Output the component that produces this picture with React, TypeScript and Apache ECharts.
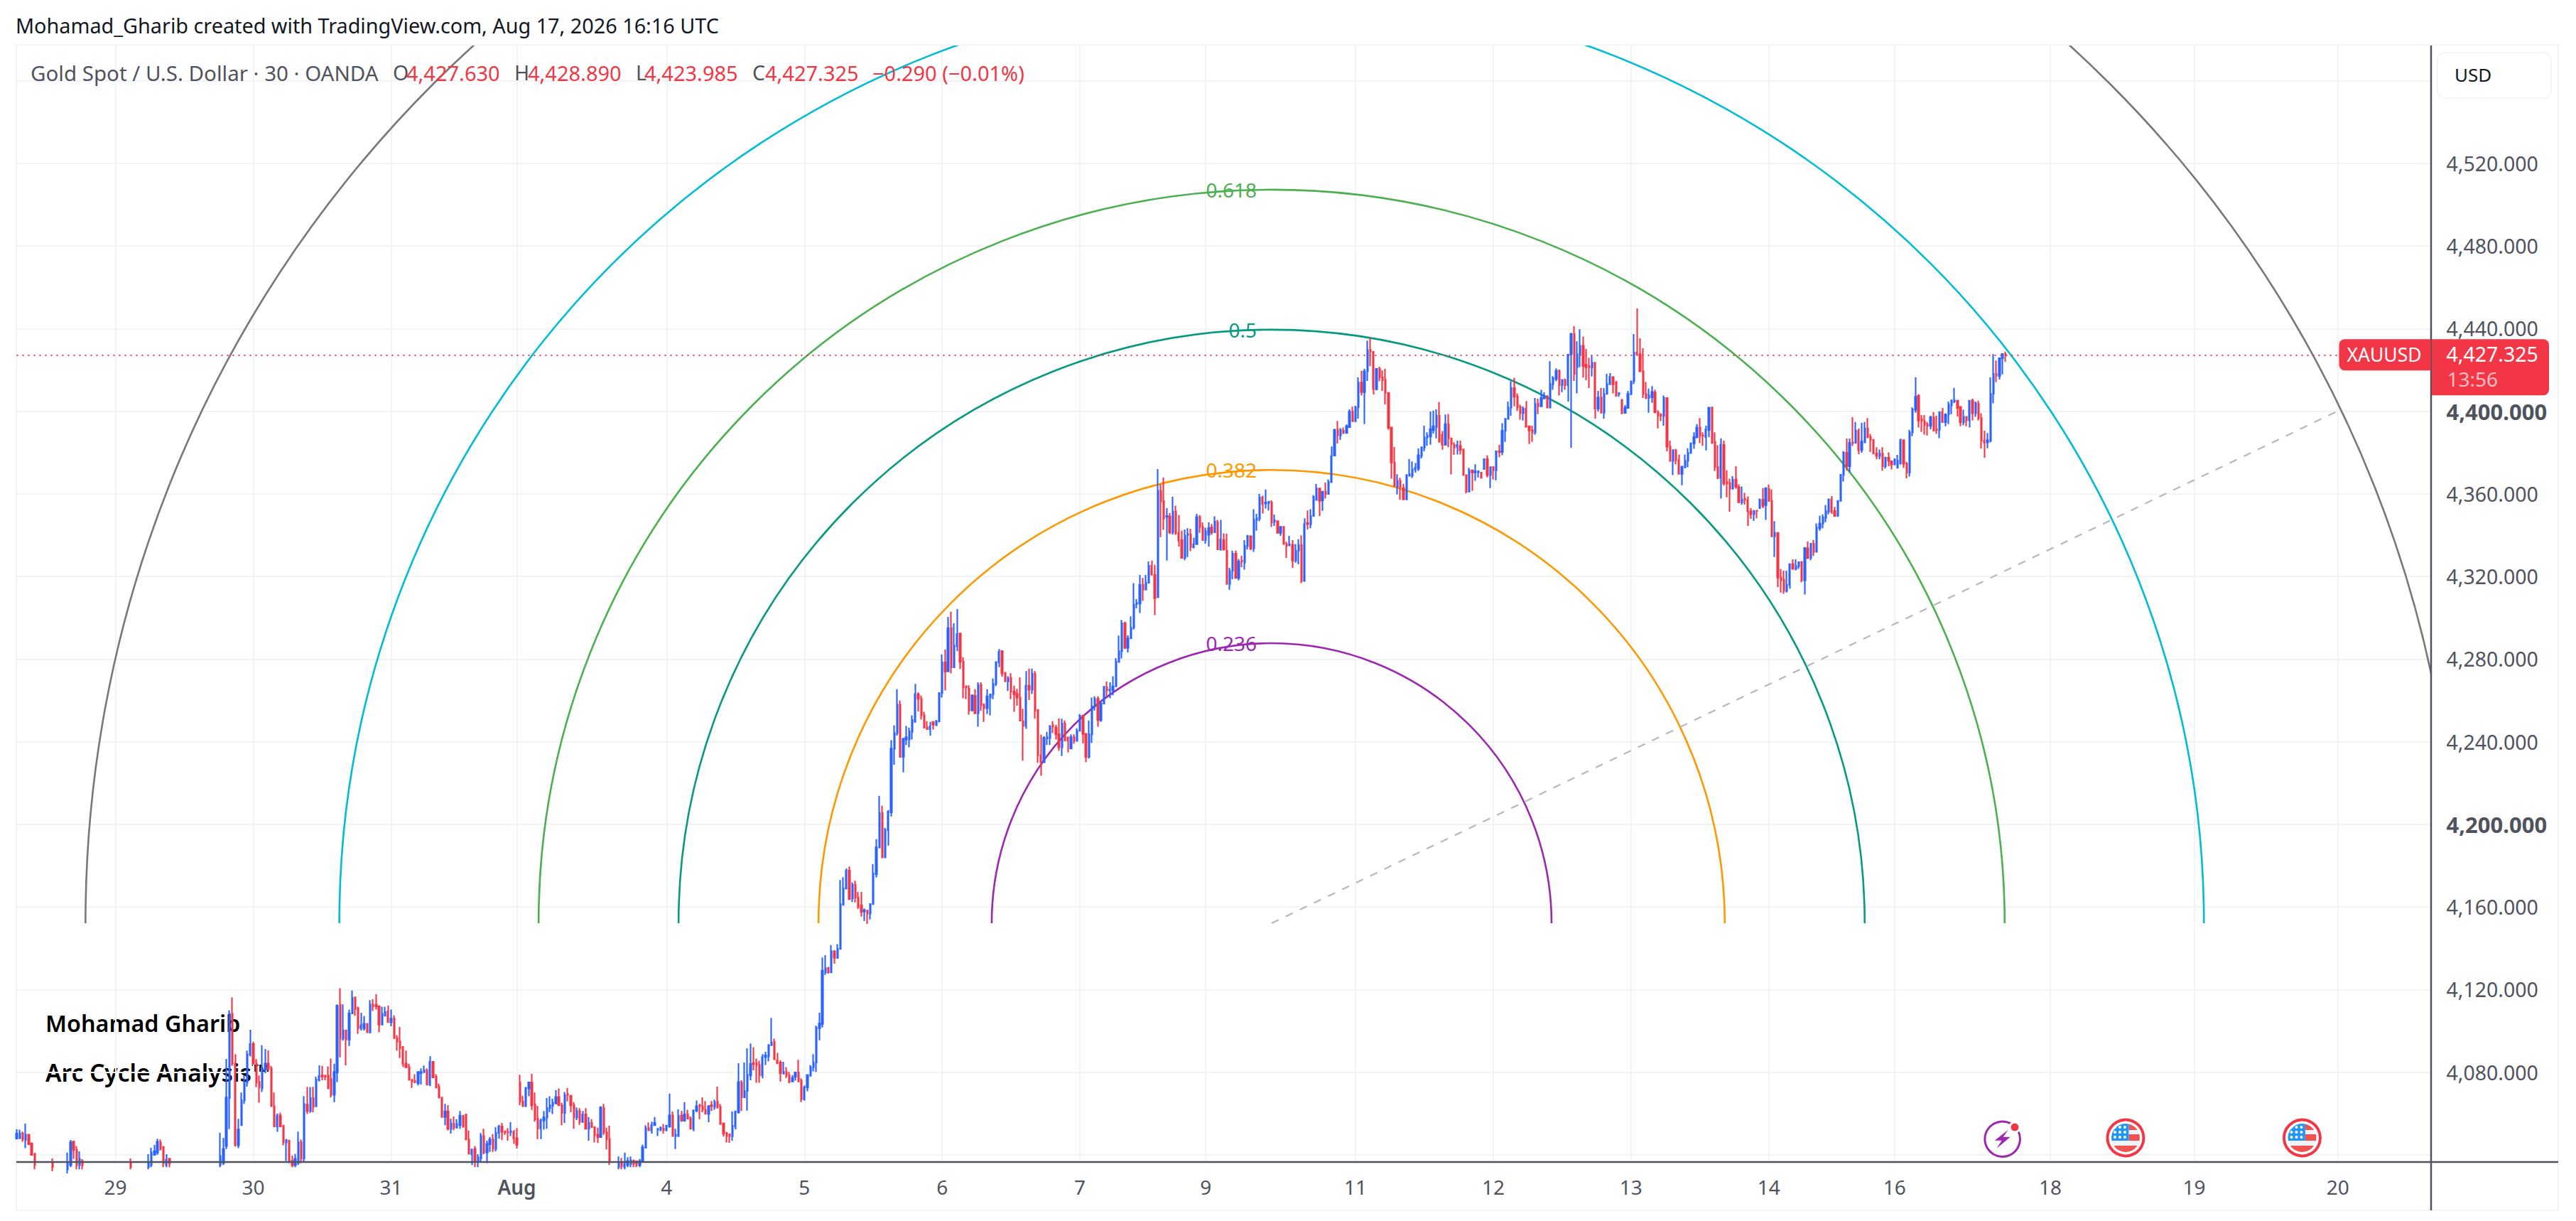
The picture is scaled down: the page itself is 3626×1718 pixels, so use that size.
import React, { useEffect, useRef } from "react";
import * as echarts from "echarts";

type Bar = number[]; // open, close, low, high

// 30-minute candles, one list per date label interval
const barsJul28: Bar[] = [
  [4048,4050.3,4047.4,4052.4],[4048,4050.3,4047.6,4052.2],[4050.3,4047.4,4046.3,4051.2],[4047.2,4049.7,4043.2,4055.1],[4049.7,4045.1,4045.1,4050],
  [4045.5,4040,4039.6,4046],[4040.5,4035,4033,4040.5],[4035,4033,4031,4035.5],[4033,4031,4029,4034],[4031,4032,4028,4034],
  [4032,4030,4029,4033],[4030,4033,4029,4034],[4036,4034,4032,4038.2],[4034,4032,4031,4035],[4032,4030,4029,4033],
  [4030,4032,4029,4033],[4032,4033,4030,4034],[4033,4036,4031,4041.1],[4035,4046,4034,4047.2],[4046.3,4042.3,4038,4046.8],
  [4042.3,4035,4033,4044.2],[4035,4038,4033,4041.7],[4037,4035,4033,4037.9],[4035,4033,4032,4035.5],[4033,4031,4030,4034],
  [4031,4032,4029,4033],[4032,4030,4028,4033],[4030,4028,4027,4031],[4028,4030,4026,4031],[4030,4031,4028,4032],
  [4031,4029,4028,4032],[4029,4031,4027,4032],[4031,4032,4029,4033],
];
const barsJul29: Bar[] = [
  [4032,4030,4029,4033],[4030,4033,4029,4034],[4033,4034,4031,4035],[4034,4032,4031,4035],[4032,4033,4030,4034],
  [4036,4034,4033,4038.2],[4034,4032,4031,4035],[4032,4033,4030,4034],[4033,4031,4030,4034],[4031,4033,4030,4034],
  [4033,4035,4032,4035.5],[4034,4036,4033,4040.3],[4035,4041.1,4034,4043.4],[4040,4041.7,4040,4044.8],[4041.1,4046.3,4040,4047.8],
  [4046,4043,4042,4047.4],[4043.8,4036,4034,4044.2],[4035,4037.7,4034,4040.3],[4038,4036,4034,4038.5],[4036,4034,4033,4036.2],
  [4034,4032,4031,4035],[4032,4030,4029,4033],[4030,4028,4027,4031],[4028,4030,4026,4031],[4030,4028,4027,4031],
  [4028,4026,4025,4029],[4026,4029,4025,4030],[4029,4031,4028,4032],[4031,4029,4028,4032],[4029,4031,4028,4032],
  [4031,4033,4030,4034],[4033,4031,4030,4034],[4031,4033,4030,4034],[4033,4034,4032,4035],[4033,4035,4032,4036],
  [4035,4039.2,4034,4050.6],[4036,4042.8,4035,4048.2],[4044.2,4067.7,4042.8,4086.4],[4067.5,4108.2,4052.4,4110],[4108.2,4084.1,4083,4116.2],
  [4084.1,4044.6,4044,4088.7],[4044.6,4052.2,4043.2,4057.4],[4054.3,4066.3,4054.1,4070.1],[4066.3,4075,4064.6,4078.4],[4075,4088.5,4073,4090.4],
  [4088.5,4093.6,4087.6,4100.5],
];
const barsJul30: Bar[] = [
  [4093.6,4084.1,4084.1,4094.7],[4084.1,4075,4072.7,4086.4],[4075.3,4072.7,4065.2,4078.4],[4072.1,4081.3,4070.4,4093],[4081.3,4084.1,4079.5,4091.2],
  [4084.1,4081.8,4080.7,4090.5],[4081.8,4063.5,4063.5,4083],[4063.5,4053.7,4053.7,4070.1],[4053.7,4058.9,4051.1,4060],[4058.9,4053.7,4053.7,4060.3],
  [4054.1,4046,4044.6,4054.1],[4046,4047.2,4037,4047.4],[4046.9,4036.5,4036,4047.2],[4037,4035,4034,4039.6],[4035,4038,4034,4040.5],
  [4036,4046,4035,4051.2],[4046,4038.2,4036,4047.4],[4038.2,4064.6,4036.6,4068.4],[4064.3,4061.2,4059.7,4072.9],[4061.2,4067.5,4060.3,4072.7],
  [4067.5,4063.3,4060.6,4072.9],[4063.5,4076.3,4063.1,4077.8],[4076.3,4078.2,4075.5,4083.3],[4078.4,4077.8,4076.1,4083],[4078.4,4077.8,4076.1,4078.4],
  [4078.4,4072.1,4072.1,4082.8],[4076.7,4069,4067.7,4086.6],[4069,4080.1,4065.5,4084.1],[4079.8,4112.2,4075.2,4112.8],[4112.6,4096.2,4087.2,4120.6],
  [4096.2,4100.2,4095.3,4112.8],[4100.2,4095.8,4083.3,4100.2],[4095.8,4108.4,4092.7,4110.3],[4108.4,4116,4108.2,4119.5],[4116.2,4110.5,4107.3,4116.2],
  [4111,4101.3,4098.5,4111.7],[4101.3,4102.7,4100.2,4108.8],[4101.3,4103.4,4100.2,4107.1],[4103.4,4099.3,4099,4103.6],[4099.3,4112.8,4098.8,4114.9],
  [4112.6,4111.9,4109.6,4115.3],[4112.6,4111.9,4110.3,4117.7],[4111.9,4103,4099.3,4112.2],[4103,4108.2,4102.7,4111.7],[4107.3,4109.1,4107.1,4111.7],
  [4109.4,4104.2,4104.2,4112.2],[4104.2,4105.9,4102.2,4110.3],
];
const barsJul31: Bar[] = [
  [4105.9,4096.5,4096.5,4107.6],[4096.5,4094.8,4090.4,4097.9],[4094.8,4091.6,4086.8,4101.9],[4092.2,4084.1,4082.4,4092.2],[4084.1,4082.4,4082.1,4090.4],
  [4082.4,4076.3,4076.1,4084.1],[4076.3,4075.5,4072.4,4076.3],[4075.7,4075.2,4074.7,4079],[4074.7,4080.1,4073.6,4080.1],[4079.5,4080.1,4074,4081.8],
  [4080,4080.9,4079.8,4083.2],[4080.9,4074,4073.6,4081.8],[4074,4085,4073.2,4087.8],[4085,4077.5,4077.2,4085],[4077.8,4072.6,4072.4,4079],
  [4072.9,4067.7,4067.5,4074.4],[4067.7,4058.3,4058.3,4067.7],[4058.3,4061,4054.3,4064.6],[4061,4052.6,4051.8,4064],[4052.6,4055.2,4050.3,4057.5],
  [4054.9,4053.1,4052,4058.5],[4053.1,4054.9,4053.1,4057.2],[4054.3,4058.9,4052.6,4061.2],[4058.9,4053.7,4053.1,4058.9],[4059.5,4047.4,4047.4,4059.5],
  [4047.4,4040.5,4040.5,4051.7],[4040.3,4042.6,4035,4042.8],[4042.8,4037,4034,4044.2],[4036.5,4038.8,4034,4040.3],[4038.2,4049.1,4036.5,4050.5],
  [4049.1,4041.1,4040.3,4052.6],[4041.1,4045.3,4036,4046.8],[4045.1,4047.4,4041.4,4048.6],[4047.4,4043,4041.4,4050],[4043,4050.6,4041.7,4053.4],
  [4050.6,4053.7,4047.8,4054.5],[4053.7,4051.1,4047.2,4055.4],[4051.4,4050.8,4049.7,4051.4],[4051.1,4050.9,4046.8,4052.9],[4050.9,4051.4,4049.1,4055.8],
  [4050.9,4048,4045.3,4052],[4048,4044.9,4043,4052.9],
];
const barsAug1: Bar[] = [
  [4075,4065.8,4064,4078.7],[4065.8,4063.5,4063.5,4068.6],[4063.5,4072.4,4063.5,4072.6],[4072.1,4075,4068.3,4075.2],[4075,4064,4061.7,4079.2],
  [4064.4,4057.2,4056,4070.1],[4057.5,4052.8,4047.6,4063.7],[4052.8,4056.6,4047.6,4057.5],[4056.6,4058.1,4052.2,4061.2],[4058,4062.6,4052.6,4067.5],
  [4062.6,4064,4060.6,4068.3],[4063.7,4065.2,4059.7,4067.1],[4064.8,4068,4064.6,4071.3],[4068,4064,4063.7,4072.1],[4064,4060.3,4054.3,4065.2],
  [4060.3,4069,4055.4,4070.4],[4069.4,4069,4065.8,4072.3],[4068.6,4064,4060.6,4069],[4064,4058,4052.6,4065.5],[4058,4061.2,4056.8,4062.9],
  [4061.2,4056,4054.5,4062.6],[4056,4059.5,4055.4,4061.2],[4059.5,4052.6,4052.6,4062.6],[4052.6,4055.4,4046.8,4058.3],[4055.4,4053.4,4052.9,4057.2],
  [4053.4,4049.5,4046,4053.7],[4049.7,4048.6,4045.7,4053.2],[4048.6,4062.9,4048.3,4063.5],[4062.6,4050.9,4049.7,4064.6],[4050.9,4047.6,4042.6,4053.2],
  [4047.6,4036.5,4035,4054.1],[4036,4034,4032,4036.2],[4034,4033,4031,4035],[4034,4036,4033,4039.2],[4036.5,4034.5,4033,4038.5],
  [4034,4035.5,4033,4041.1],[4035,4037,4034,4038.8],[4035.5,4037.3,4034,4039.2],[4037.2,4035.5,4034,4037.7],[4036.9,4035,4034,4037.3],
  [4035,4036.9,4034,4038],[4037.1,4043.6,4036.5,4044.9],[4043.4,4052.9,4043.4,4054.3],[4052.9,4051.8,4051.8,4055.7],[4051.8,4054.3,4050.3,4056],
  [4054.3,4055.4,4054.1,4058.3],[4052.2,4052.6,4049.1,4052.6],[4052.2,4053.1,4051.4,4053.7],[4052.6,4052,4050.3,4054.9],[4051.8,4054.1,4051.4,4054.1],
];
const barsAug4: Bar[] = [
  [4053.7,4059.1,4053.1,4069.6],[4059.1,4049.1,4048.9,4060.9],[4049.1,4049.7,4042.8,4052.6],[4049.1,4058.9,4048.6,4062],[4058.9,4056.6,4056,4061.2],
  [4056.6,4059.5,4056,4065.5],[4059.5,4057.5,4057.2,4061.8],[4057.7,4052.6,4052.6,4058.6],[4052.6,4061.5,4051.4,4061.8],[4061.4,4063.5,4060.6,4066.3],
  [4064,4063.5,4057.2,4064.6],[4063.5,4061.8,4060.6,4067.8],[4061.8,4059.8,4059.8,4066],[4059.8,4063.5,4055.8,4064],[4064,4063.5,4061.2,4066],
  [4063.2,4065.5,4061.8,4066.7],[4065.8,4063.2,4062.3,4073],[4063.2,4054.9,4054.5,4064.6],[4055.2,4050.3,4048.8,4055.4],[4050.5,4049.1,4046,4051.1],
  [4049.9,4049.1,4045.8,4050.3],[4049.1,4054,4046.8,4061],[4053.7,4061,4052.3,4061],[4060.6,4075.2,4060,4084.3],[4074.9,4067.8,4061.2,4076.1],
  [4067.8,4070.9,4067.8,4084.7],[4070.9,4078.7,4061.4,4091.6],[4078.4,4083.9,4076.1,4093.9],[4084.3,4083.9,4080.9,4092.1],[4084.3,4083.5,4074.9,4086.6],
  [4083.5,4078.4,4074.9,4085.5],[4078.4,4087.3,4077,4088.7],[4087.3,4088.1,4083.5,4089.9],[4087.6,4093.1,4085.3,4093.5],[4093.1,4094.4,4092.7,4106.3],
  [4094.7,4086.2,4086.2,4096.2],[4085.8,4084.3,4084.3,4089.3],[4084.7,4079.5,4075.5,4085.8],[4079.3,4080.1,4079,4085],[4080.1,4078.4,4077.2,4082.4],
  [4078.4,4075.2,4074.7,4080.1],[4075.5,4077.2,4075.5,4078.6],[4077.8,4079.8,4075.9,4080.1],[4079.8,4075.5,4075.5,4086],[4075.9,4066.9,4065.5,4077],
  [4066.9,4072.6,4066.3,4073.6],
];
const barsAug5: Bar[] = [
  [4072.6,4078.6,4070.7,4078.6],[4078.4,4082.4,4077.8,4083.5],[4082.4,4084.7,4080.4,4088.7],[4084.7,4101.6,4080.1,4102.5],[4101.3,4103.6,4095.4,4108.8],
  [4103.4,4129.1,4101.6,4135.5],[4128.3,4130.3,4127.1,4136.6],[4130.6,4128.3,4127.7,4130.9],[4128.3,4138.6,4128.3,4141.5],[4138.6,4135.4,4132.5,4138.6],
  [4135.4,4139.7,4134.9,4142],[4139.7,4161.3,4139.4,4173],[4161,4169,4161,4174.4],[4168.8,4177.6,4168.5,4178.6],[4177.6,4163.9,4163.3,4179.6],
  [4164.2,4170.8,4162.4,4171.9],[4170.8,4164.5,4162.2,4172.7],[4164.5,4159.9,4159.1,4167.3],[4160.8,4157.6,4155.3,4167.3],[4157.8,4158.4,4153.2,4159.3],
  [4158.2,4156.8,4151.8,4158.7],[4156.8,4161.4,4153.9,4161.6],[4161.4,4176.2,4161,4180.8],[4175.9,4188.8,4174.2,4192.8],[4188.8,4205.4,4188.6,4213.8],
  [4205.4,4184,4183.7,4209],[4184,4197.2,4184,4198.3],[4197.2,4206.1,4189.7,4206.9],[4205.8,4236.7,4203.8,4240.7],[4236.5,4244.2,4228.9,4247.9],
  [4244.2,4257.9,4243,4265.4],[4257.9,4232.7,4232.4,4259.9],[4232.7,4241.3,4225.2,4241.9],[4241.1,4242.2,4238.4,4247.6],[4241.1,4245,4237.3,4246.8],
  [4244.8,4250.5,4241.1,4252.8],[4249.6,4263.1,4249.3,4268],[4262.9,4260.8,4254.7,4264],[4260.8,4252.8,4250.7,4262.3],[4252.8,4246.8,4246.5,4254.5],
  [4247,4246.1,4245.9,4249.9],[4246.1,4247.3,4243,4249.6],[4249.6,4248.2,4245.9,4249.9],[4248,4249.9,4247.9,4250.5],[4249.9,4263.5,4249.3,4264],
  [4263.5,4278.4,4261.4,4282.3],
];
const barsAug6: Bar[] = [
  [4278.4,4274,4264.8,4284.7],[4274,4295,4274,4300.4],[4295,4276,4273.1,4302.9],[4276,4286.6,4276,4297.3],[4286.3,4292.1,4283.8,4304.2],
  [4292.4,4278.6,4275.2,4292.6],[4278.8,4266.3,4261,4280.9],[4266.9,4266.3,4260.6,4267.1],[4265.7,4255.1,4253.1,4267.3],[4255.1,4262.3,4255.1,4262.9],
  [4262.2,4253.7,4253.4,4265.4],[4253.7,4267.5,4247.3,4268.8],[4267.5,4257.6,4254.9,4268.8],[4257.9,4256.2,4249.6,4258.5],[4256.2,4262,4253.4,4265.4],
  [4261.4,4262.9,4252.8,4263.1],[4262.9,4268,4260.6,4270.6],[4267.9,4278.6,4266.9,4278.9],[4278.4,4283.5,4276.1,4284.9],[4283.8,4273.1,4271.4,4284.3],
  [4273.4,4269.2,4269.2,4273.7],[4269.2,4270.9,4264.6,4271.7],[4270.9,4264.3,4260.6,4273.2],[4264.3,4262.9,4254.5,4267.1],[4263.1,4261.4,4257.4,4265.6],
  [4261.4,4250.2,4249.9,4271.1],[4249.9,4247.6,4230.8,4256],[4247.6,4267.1,4246.2,4274.2],[4267.1,4265.2,4260.2,4275.4],[4265.2,4272.9,4263.1,4275.4],
  [4272.9,4254.9,4251.1,4274.2],[4255.3,4233.5,4229.8,4255.7],[4233.5,4230.1,4223.5,4243.4],[4230.1,4241.8,4229.8,4242.7],[4241.6,4242.2,4238.4,4244.8],
  [4241.9,4247.4,4238.4,4248],[4248,4247.3,4244.2,4249.9],[4246.8,4243.6,4241.1,4248.2],[4243.6,4237.3,4235.6,4251.3],[4237.3,4248.8,4233.1,4251.1],
  [4248.8,4240.7,4240.2,4250.3],[4241.9,4240.7,4234.8,4242.5],[4236.7,4242.2,4236.5,4243.6],[4242.2,4240.4,4239,4243.6],[4240.4,4245.3,4240.2,4246.5],
  [4245.3,4252.6,4245.3,4253.4],
];
const barsAug7: Bar[] = [
  [4252.6,4243.8,4239.2,4253],[4243.8,4232.7,4230.1,4244.2],[4232.7,4243.6,4231.9,4250.3],[4243.6,4257.1,4239.4,4261.4],[4257.1,4260.8,4255.1,4262],
  [4260.8,4250.5,4247.3,4262],[4250.5,4258.5,4249.6,4259.7],[4258.5,4266.6,4258.3,4266.8],[4266.3,4264.8,4262,4269.1],[4264.8,4265.2,4261,4268.8],
  [4264.8,4266.8,4262.5,4271.7],[4266.8,4278.8,4266.6,4280.5],[4278.6,4283.8,4278.6,4291.4],[4283.8,4297.3,4280.3,4299],[4297.3,4285.5,4284.9,4298.1],
  [4285.5,4290,4283.2,4291.6],[4290.1,4295.2,4289.7,4300.7],[4295.2,4306.4,4294.3,4316.8],[4306.7,4307.2,4304.6,4309],[4306.9,4315.9,4302.3,4320.7],
  [4315.9,4313.6,4308.2,4319.3],[4313.6,4317,4313.3,4320.7],[4317,4325.2,4317,4327.3],[4325.2,4320.8,4320.7,4327.7],[4320.8,4309.5,4301.3,4325.6],
  [4309.9,4361.5,4309.9,4372],[4361.5,4356.2,4339.1,4364.6],[4356.6,4348,4342.6,4368],[4348.9,4349.3,4327.7,4353.1],[4349.1,4341.4,4340.5,4350.8],
  [4341.4,4351.4,4340.3,4358.6],[4351.4,4340.9,4340.2,4354.3],[4341.1,4337.4,4334.5,4349.7],[4337.6,4329,4329,4342.2],[4329,4339.7,4327.9,4342.8],
  [4340.2,4340.5,4329.4,4343.4],[4340.3,4334.2,4332.3,4343.1],[4334.2,4335.6,4333.6,4338.8],[4335.6,4348.8,4335.6,4350.3],[4348.8,4344,4341.1,4349.7],
  [4344,4337.6,4337.3,4346.2],[4337.6,4342,4335.9,4343.6],
];
const barsAug9: Bar[] = [
  [4340.2,4343.4,4334.5,4346.2],[4343.7,4341.4,4340.2,4345.4],[4341.4,4346.5,4341.1,4349.1],[4346.3,4333.1,4332.8,4347.4],[4333.1,4337.9,4332.5,4347.4],
  [4337.6,4333.1,4332.5,4340.9],[4332.5,4316.4,4316.4,4340.7],[4316.4,4322.7,4313.6,4324.2],[4322.7,4331,4318.7,4332.5],[4331,4319.3,4318.9,4332.5],
  [4319.3,4327.3,4318.1,4328.5],[4327.7,4327.3,4324.5,4330],[4326.7,4334.8,4323.3,4337.6],[4334.8,4339.7,4333,4339.7],[4339.4,4333.6,4332.8,4339.9],
  [4333.6,4347.6,4331.9,4352.6],[4347.4,4348.2,4342.2,4350.3],[4348,4358.3,4346.8,4360],[4358.3,4355.1,4350.5,4359.1],[4355.4,4355.8,4352.9,4362.1],
  [4355.6,4356.2,4352,4356.6],[4355.8,4346.2,4344,4356.9],[4346.5,4347.2,4344.5,4350],[4346.8,4341.1,4341.1,4347],[4341.1,4344,4339.7,4344.2],
  [4344,4335.7,4335.7,4344.2],[4335.7,4334.8,4329,4336.8],[4335,4335.6,4334.8,4339.7],[4335.3,4327.7,4324.2,4337.6],[4327.7,4332.5,4326.7,4335.7],
  [4332.5,4335.3,4325.9,4338],[4335.3,4317.8,4316.8,4339.9],[4317.8,4345.4,4317.8,4348.2],[4345.9,4345.4,4342.8,4352],[4345.3,4349.3,4343.4,4352.6],
  [4349.3,4358.6,4349.1,4359.4],[4357.1,4362.6,4357.1,4364.8],[4362.6,4356.6,4349.3,4362.9],[4356.9,4361.1,4351.8,4361.4],[4361.1,4360,4357.7,4365.5],
  [4360,4365.7,4360,4366.9],[4365.7,4378.4,4365.4,4382.9],
  [4378.6,4390.9,4378.3,4391.5],[4390.9,4388.3,4384.4,4395.3],[4388.3,4390.9,4386.1,4391.9],[4390.6,4389.5,4389,4392.1],[4389.5,4392.7,4389.5,4393.6],
  [4392.3,4399.8,4392.1,4400.9],[4399.8,4395.2,4395,4402.2],[4395.2,4402,4395.2,4402.6],
];
const barsAug11: Bar[] = [
  [4402,4413.9,4396.4,4416.4],[4413.9,4409.3,4407.6,4419.6],[4409.3,4419.3,4393.8,4420.5],[4419.3,4429.7,4414.7,4434.2],[4429.7,4428.8,4421.9,4435.4],
  [4428.8,4410.7,4408.1,4429.1],[4410.7,4420.5,4410.1,4420.8],[4420.5,4416.4,4414.5,4421.6],[4416.4,4415,4409.9,4419.8],[4415.3,4408.9,4403.3,4420.5],
  [4408.9,4392.1,4391,4409],[4392.1,4375.2,4367.4,4392.3],[4375.2,4364,4363.4,4382.7],[4363.4,4366.3,4359.7,4369.5],[4366.3,4363.4,4357.1,4367.8],
  [4362.8,4357.3,4357.1,4364.9],[4357.3,4369.1,4357.1,4369.5],[4368.8,4369.5,4368.6,4376.8],[4368.8,4371.8,4367.7,4375.7],[4371.8,4372.6,4370.3,4374.9],
  [4372.2,4378.7,4371.1,4382],[4378.3,4382.6,4377.2,4382.6],[4382.3,4387.3,4380.6,4393],[4387.3,4388.1,4383.3,4389.8],[4387.8,4391.3,4383.8,4399.9],
  [4390.9,4392.7,4389.2,4400.3],[4392.4,4397.8,4386.9,4401],[4397.8,4385.2,4384.9,4404.4],[4388.6,4383.7,4381.4,4390.4],[4383.7,4393.8,4383.7,4398.4],
  [4393.8,4386.9,4382.6,4398.7],[4386.9,4384.1,4369.4,4386.9],[4383.7,4382.3,4378.9,4385],[4382.9,4383.7,4379.1,4385.8],[4383.3,4381.2,4379.1,4385.8],
  [4381.5,4369.1,4369.1,4381.8],[4369.1,4361.1,4360.3,4369.1],[4361.1,4371.4,4361.1,4372.6],[4371.4,4370.3,4361.5,4371.8],[4370.5,4370.9,4366.3,4374.3],
  [4370.5,4370.9,4368,4371.4],[4370.3,4367.8,4367.4,4370.6],[4372,4376.8,4372,4377.2],[4376.8,4369.1,4368,4378.6],[4369.1,4372.9,4362.8,4373.2],
  [4372.9,4371.4,4366.9,4373.4],
];
const barsAug12: Bar[] = [
  [4371.4,4380.6,4366.6,4381],[4380.6,4380.3,4377.8,4383.8],[4380.3,4390.6,4378.7,4394.2],[4390.6,4396.3,4385.2,4396.7],[4396.3,4401.8,4396.1,4404.7],
  [4401.8,4411.2,4397.8,4414.5],[4411.2,4407,4402.4,4416.2],[4407.3,4402,4400.1,4408.7],[4402,4399,4395.9,4403.2],[4399,4401.3,4395.5,4402.4],
  [4401.3,4392.4,4392.4,4405],[4392.7,4390.7,4384.1,4393],[4390.9,4389.8,4385.2,4393],[4389.8,4403.6,4388.6,4406.4],[4403.6,4402.4,4398.6,4406.1],
  [4402.4,4406.4,4402.4,4410.4],[4406.2,4407.3,4405.9,4409.3],[4407.3,4401.8,4401.8,4407.8],[4401.8,4413.3,4401.8,4424.2],[4413.1,4416,4410.4,4417],
  [4415.6,4419.6,4414.5,4420.8],[4419.6,4412.7,4407.6,4420.2],[4412.7,4415,4409.3,4415.6],[4415,4412.7,4410.4,4415.9],[4412.7,4427.4,4404.7,4427.6],
  [4427.6,4437.4,4382.3,4438],[4437.4,4418.1,4414.7,4441.2],[4421.3,4427.6,4408.7,4433.9],[4427.3,4431.7,4421.3,4439.7],[4431.7,4421.9,4416.4,4436.2],
  [4422.5,4421.3,4415,4430.2],[4421.9,4421.3,4411.2,4425.9],[4421.3,4423.4,4416.8,4426.7],[4423.4,4401.3,4396.4,4423.9],[4401.3,4406.7,4399.9,4409.9],
  [4406.7,4399.3,4399.3,4411.2],[4399.3,4408.4,4396.4,4411.2],[4408.4,4413.1,4408.1,4418.1],[4413.1,4416.7,4413.1,4418.5],[4416.5,4413.1,4408.7,4417],
  [4414.2,4407.6,4407,4414.5],[4408.4,4408.7,4407,4409.3],[4405.5,4399.2,4398.6,4405.9],[4399.2,4401.8,4399,4403],[4401.6,4408.4,4401.3,4409.9],
  [4408.4,4414.5,4407.8,4414.5],
];
const barsAug13: Bar[] = [
  [4414.5,4428.4,4413.1,4437.4],[4428.4,4427.6,4427.6,4449.8],[4427.6,4419.3,4419.3,4435.3],[4419.4,4408.4,4406.4,4430.5],[4408.4,4406.4,4405.9,4414.2],
  [4406.4,4407.6,4399.3,4411],[4406.8,4409.3,4404.1,4412.2],[4409.1,4399.5,4399.2,4410.4],[4399.5,4397.8,4391.7,4400.5],[4398.4,4397.8,4395.2,4399],
  [4397.8,4406.4,4393,4407.6],[4406.4,4382.9,4380.6,4406.6],[4382.9,4376,4375.7,4385.8],[4376,4381.2,4369.1,4381.2],[4381,4376.4,4374.3,4381.8],
  [4376.4,4369.7,4369.5,4379.1],[4369.7,4373.2,4364.2,4373.4],[4372.9,4376,4372.4,4379.1],[4376,4379.8,4372.9,4382.1],[4379.8,4384.4,4379.5,4384.9],
  [4384.4,4387.5,4381.8,4389.8],[4387.5,4392.1,4386.9,4393.8],[4392.1,4388.1,4384.6,4396.7],[4388.3,4388.1,4383.3,4389.8],[4387.5,4391.2,4381,4393],
  [4390.9,4401.8,4387.5,4401.8],[4401.8,4384.6,4384.4,4402.2],[4385.2,4372.9,4371.1,4389.8],[4372.9,4367.7,4367.2,4383.5],[4367.7,4383.7,4357.7,4386.9],
  [4383.7,4365.1,4364,4385.8],[4365.7,4365.1,4358.3,4371.4],[4365.1,4362.5,4351.4,4367.4],[4362.5,4366.9,4362.5,4368.6],[4366.9,4363.4,4362.5,4373.4],
  [4363.2,4355.9,4355.9,4364.6],[4355.9,4357.3,4354.8,4363.6],[4357.7,4357.1,4354.8,4360.5],[4357.1,4351.6,4344.5,4358.8],[4351.6,4350.2,4347.9,4353.1],
  [4350.2,4351.6,4347,4352.2],[4351.9,4351.6,4348.2,4351.9],[4353.1,4357.1,4353.1,4357.7],[4357.1,4354.2,4353.1,4362.8],[4354.6,4362.8,4347.4,4363.1],
  [4362.3,4356.6,4356.2,4364.4],
];
const barsAug14: Bar[] = [
  [4356.6,4339.4,4339.4,4362.1],[4339.4,4341.1,4329.4,4346.8],[4341.1,4319.5,4314.9,4341.1],[4319.5,4318.2,4312.2,4323.6],[4318.4,4313,4311.6,4322.8],
  [4313,4315.9,4312.2,4322.8],[4315.9,4326,4314.1,4326.2],[4326,4323.7,4323.7,4328.3],[4323.7,4325,4323,4328.3],[4325,4326.9,4323.7,4327.1],
  [4327.1,4318.2,4317.2,4327.1],[4318.2,4333.8,4311.3,4334],[4333.6,4329,4328.5,4336.9],[4329,4335.9,4327.9,4335.9],[4335.9,4331.9,4329.9,4337.7],
  [4331.9,4343.7,4331.9,4345.7],[4343.4,4345.7,4342.2,4349.4],[4345.7,4348.6,4343.4,4350.1],[4348.3,4351.7,4346.3,4354.6],[4351.4,4357.4,4350.1,4357.5],
  [4357.2,4351.4,4350.3,4358.9],[4351.7,4349.4,4348.9,4353.7],[4349.4,4356.6,4348.9,4356.9],[4356.6,4369.2,4356.6,4369.5],[4369.2,4379.9,4366,4380.7],
  [4379.9,4373.4,4371.2,4386.8],[4373.4,4384.7,4370.4,4386.8],[4384.9,4384.7,4383.2,4397.1],[4384.7,4390.7,4384.7,4394.8],[4390.7,4381.2,4379.2,4391.6],
  [4381.2,4385.3,4379.9,4394.4],[4384.9,4391.6,4384.7,4394.8],[4391.6,4387.3,4387.3,4396.7],[4387.6,4386.1,4380.3,4389],[4386.2,4379.5,4379.5,4386.4],
  [4379.5,4378.4,4376.7,4382.6],[4378.4,4379.5,4376.7,4381.5],[4379.5,4373.4,4371.2,4382.6],[4373.4,4377.6,4372.3,4377.8],[4377.5,4376.1,4373.4,4380.1],
  [4375.8,4374.3,4371.8,4376.1],[4374.3,4376.6,4373.8,4377.2],
];
const barsAug16: Bar[] = [
  [4372.6,4376.1,4372.4,4378.9],[4374.6,4386,4374.3,4386.7],[4386,4374.6,4372.6,4386.4],[4374.7,4370.3,4367.5,4375.5],[4370.3,4389.8,4368.4,4391],
  [4389.8,4400.9,4387.9,4401.9],[4400.7,4407,4399.3,4416.4],[4407.4,4395.5,4392.1,4408.2],[4396.1,4395.3,4390,4398.2],[4395.3,4393.3,4388.7,4398.2],
  [4393.6,4392.9,4388.3,4394.8],[4392.9,4397,4391.3,4397.8],[4397,4390.6,4390.4,4399.6],[4391.3,4390.9,4389,4397.8],[4391,4399.6,4387,4399.6],
  [4399.6,4394.7,4394.4,4401.6],[4394.7,4398.4,4392.7,4399],[4398.4,4403.2,4393.8,4404.7],[4402.8,4405.3,4398.6,4405.5],[4404.7,4405.3,4403.9,4411.3],
  [4405.1,4401.6,4397.5,4405.1],[4402.1,4394.7,4392.7,4402.4],[4394.7,4397.3,4393.3,4400.7],[4397.3,4395.6,4392.7,4397.5],[4395.6,4405.1,4392.1,4405.5],
  [4405.1,4399,4395.6,4406.1],[4399,4403.9,4397.3,4404.7],[4403.6,4396.7,4395.6,4405.1],[4396.7,4385.8,4382,4399],[4385.8,4384.9,4377.5,4390.6],
  [4384.9,4386,4382.1,4389.5],[4385.8,4408.5,4384.9,4416.4],[4408.5,4418.1,4403.8,4427.7],[4418.1,4417.3,4414.1,4424.6],[4417.1,4425.7,4415.4,4425.9],
  [4425.7,4427.7,4417.9,4427.7],[4427.63,4427.325,4423.985,4428.89],
];

// Date axis: bar positions of the labelled dates
const tickBars = [33, 79, 125, 167, 217, 263, 309, 355, 397, 447, 493, 539, 585, 627, 679, 727, 775];
const tickDates = ["29", "30", "31", "Aug", "4", "5", "6", "7", "9", "11", "12", "13", "14", "16", "18", "19", "20"];
const barSlots = 807;

// Price axis
const gridPrices = [4040, 4080, 4120, 4160, 4200, 4240, 4280, 4320, 4360, 4400, 4440, 4480, 4520, 4560];
const labelPrices = [4080, 4120, 4160, 4200, 4240, 4280, 4320, 4360, 4400, 4440, 4480, 4520];
const strongPrices = [4200, 4400];
const priceMin = 4036.5;
const priceMax = 4577.1;

// Fib arcs: centre anchor, rim anchor, levels
const arcCentreBar = 419;
const arcCentrePrice = 4152.1;
const arcRimBar = 776;
const arcRimPrice = 4400.8;
const arcLevels = [0.236, 0.382, 0.5, 0.618, 0.786, 1];
const arcColors = ["#9c27b0", "#ff9800", "#089981", "#4caf50", "#00bcd4", "#787878"];

const lastPrice = 4427.325;
const lastBar = 663;

const FONT = '"Noto Sans", sans-serif';
const RED = "#f23645";
const BLUE = "#2962ff";
const GREY = "#50535e";
const FRAME = "#f2f3f5";

echarts.graphic.registerShape(
  "flagRed",
  echarts.graphic.extendPath(
    "M4.4 -19.5 A20 20 0 0 1 16.7 -11 L4.4 -11 Z M4.4 -5 L19.4 -5 A20 20 0 0 1 19.6 4 L4.4 4 Z M-16.7 11 L16.7 11 A20 20 0 0 1 -16.7 11 Z",
    {}
  ) as any
);
echarts.graphic.registerShape(
  "flagBlue",
  echarts.graphic.extendPath("M4.4 -19.5 A20 20 0 0 0 -19.6 4 L4.4 4 Z", {}) as any
);
echarts.graphic.registerShape(
  "bolt",
  echarts.graphic.extendPath("M8 -13 L-11 2 L-1 2 L-8 13 L11 -3 L1 -3 Z", {}) as any
);

function flag(x: number, y: number) {
  const stars: any[] = [];
  [-15, -8, -1].forEach((sx) =>
    [-15, -8, -1].forEach((sy) =>
      stars.push({ type: "circle", z: 20, shape: { cx: sx, cy: sy, r: 2 }, style: { fill: "#ffffff" } })
    )
  );
  return {
    type: "group",
    x,
    y,
    z: 20,
    children: [
      { type: "circle", z: 20, shape: { cx: 0, cy: 0, r: 25.5 }, style: { fill: "#ffffff", stroke: RED, lineWidth: 4 } },
      { type: "circle", z: 20, shape: { cx: 0, cy: 0, r: 20 }, style: { fill: "#f3f1fa" } },
      { type: "flagRed", z: 20, style: { fill: "#ef5350" } },
      { type: "flagBlue", z: 20, style: { fill: "#2196f3" } },
      ...stars,
    ],
  };
}

function txt(x: number, y: number, text: string, fill: string, fontSize = 28, fontWeight: any = "normal", z = 20) {
  return {
    type: "text",
    x,
    y,
    z,
    style: { text, fill, fontSize, fontWeight, fontFamily: FONT, verticalAlign: "middle", align: "left" },
  };
}

export default function App() {
  const ref = useRef<HTMLDivElement>(null);
  useEffect(() => {
    document.body.style.margin = "0";
    const chart = echarts.init(ref.current!, undefined, { renderer: "svg" });
    const bars = [
      ...barsJul28, ...barsJul29, ...barsJul30, ...barsJul31, ...barsAug1, ...barsAug4, ...barsAug5, ...barsAug6,
      ...barsAug7, ...barsAug9, ...barsAug11, ...barsAug12, ...barsAug13, ...barsAug14, ...barsAug16,
    ];
    const categories: string[] = new Array(barSlots).fill("");
    tickBars.forEach((b, i) => (categories[b] = tickDates[i]));
    const isTick = (i: number) => tickBars.includes(i);

    chart.setOption({
      animation: false,
      backgroundColor: "#ffffff",
      grid: { left: 23.5, right: 204.5, top: 64, bottom: 83, containLabel: false },
      xAxis: {
        type: "category",
        boundaryGap: false,
        data: categories,
        axisLine: { show: false },
        axisTick: { show: false, interval: isTick },
        splitLine: { show: true, interval: isTick, lineStyle: { color: FRAME, width: 2 } },
        axisLabel: {
          show: true,
          interval: isTick,
          margin: 21,
          color: GREY,
          fontFamily: FONT,
          fontSize: 28,
          formatter: (v: string) => (v === "Aug" ? "{b|Aug}" : v),
          rich: { b: { fontFamily: FONT, fontSize: 28, fontWeight: 600, color: GREY } },
        },
      },
      yAxis: {
        type: "value",
        position: "right",
        min: priceMin,
        max: priceMax,
        axisLine: { show: false },
        axisTick: { show: false, customValues: gridPrices },
        splitLine: { show: true, lineStyle: { color: FRAME, width: 2 } },
        axisLabel: {
          show: true,
          customValues: labelPrices,
          align: "left",
          margin: 22,
          color: GREY,
          fontFamily: FONT,
          fontSize: 28.5,
          formatter: (v: number) => {
            const s = v.toLocaleString("en-US", { minimumFractionDigits: 3, maximumFractionDigits: 3 });
            return strongPrices.includes(v) ? `{b|${s}}` : s;
          },
          rich: { b: { fontFamily: FONT, fontSize: 31, fontWeight: 700, color: GREY } },
        },
      },
      series: [
        {
          type: "custom",
          name: "Fib arcs",
          z: 1,
          clip: true,
          silent: true,
          encode: { x: 0, y: 1 },
          data: arcLevels.map((l) => [arcCentreBar, arcCentrePrice, l]),
          renderItem: (params: any, api: any) => {
            const c = api.coord([api.value(0), api.value(1)]);
            const e = api.coord([arcRimBar, arcRimPrice]);
            const ratio = api.value(2);
            const r = Math.hypot(e[0] - c[0], e[1] - c[1]) * ratio;
            const color = arcColors[params.dataIndex];
            const children: any[] = [
              {
                type: "arc",
                shape: { cx: c[0], cy: c[1], r, startAngle: Math.PI, endAngle: 2 * Math.PI, clockwise: true },
                style: { stroke: color, lineWidth: 2.6, fill: null },
              },
            ];
            if (c[1] - r > params.coordSys.y) {
              children.push({
                type: "text",
                x: c[0] - 21,
                y: c[1] - r,
                style: {
                  text: String(ratio),
                  fill: color,
                  fontSize: 28,
                  fontFamily: FONT,
                  align: "right",
                  verticalAlign: "middle",
                },
              });
            }
            return { type: "group", children };
          },
        },
        {
          type: "custom",
          name: "Trend",
          z: 1,
          clip: true,
          silent: true,
          encode: { x: 0, y: 1 },
          data: [[arcCentreBar, arcCentrePrice, arcRimBar, arcRimPrice]],
          renderItem: (_p: any, api: any) => {
            const a = api.coord([api.value(0), api.value(1)]);
            const b = api.coord([api.value(2), api.value(3)]);
            return {
              type: "line",
              shape: { x1: a[0], y1: a[1], x2: b[0], y2: b[1] },
              style: { stroke: "#b8b8bc", lineWidth: 2.2, lineDash: [11, 11] },
            };
          },
        },
        {
          type: "candlestick",
          name: "XAUUSD",
          z: 2,
          large: false,
          progressive: 0,
          barWidth: 1.8,
          clip: true,
          data: bars,
          itemStyle: { color: BLUE, color0: RED, borderColor: BLUE, borderColor0: RED, borderWidth: 2.1 },
          markLine: {
            silent: true,
            symbol: "none",
            label: { show: false },
            lineStyle: { color: RED, width: 2, type: [2, 6] },
            data: [{ yAxis: lastPrice }],
          },
        },
        {
          type: "custom",
          name: "Price tag",
          z: 10,
          clip: false,
          silent: true,
          encode: { x: 0, y: 1 },
          data: [[lastBar, lastPrice]],
          renderItem: (params: any, api: any) => {
            const y = api.coord([api.value(0), api.value(1)])[1];
            const ax = params.coordSys.x + params.coordSys.width;
            const label = (x: number, dy: number, text: string, fill: string, size: number) => ({
              type: "text",
              x,
              y: y + dy,
              style: { text, fill, fontSize: size, fontFamily: FONT, align: "left", verticalAlign: "middle" },
            });
            return {
              type: "group",
              children: [
                { type: "rect", shape: { x: ax - 129, y: y - 22, width: 129, height: 44, r: [8, 0, 0, 8] }, style: { fill: RED } },
                { type: "rect", shape: { x: ax + 1.5, y: y - 22, width: 165, height: 79, r: [0, 8, 8, 0] }, style: { fill: RED } },
                label(ax - 118, 0, "XAUUSD", "#ffffff", 26.5),
                label(ax + 22, -1, "4,427.325", "#ffffff", 28.5),
                label(ax + 23, 34, "13:56", "rgba(255,255,255,0.7)", 28),
              ],
            };
          },
        },
      ],
      graphic: {
        elements: [
          { type: "rect", z: 0, shape: { x: 23, y: 63, width: 3578, height: 1640 }, style: { fill: null, stroke: FRAME, lineWidth: 2 } },
          { type: "rect", z: 0, shape: { x: 3431, y: 74, width: 160, height: 64, r: 10 }, style: { fill: "#ffffff", stroke: FRAME, lineWidth: 1.5 } },
          { type: "line", z: 9, shape: { x1: 23, y1: 1635, x2: 3601, y2: 1635 }, style: { stroke: GREY, lineWidth: 2.5 } },
          { type: "line", z: 9, shape: { x1: 3422, y1: 64, x2: 3422, y2: 1703 }, style: { stroke: GREY, lineWidth: 2.5 } },
          txt(22, 35, "Mohamad_Gharib created with TradingView.com, Aug 17, 2026 16:16 UTC", "#131722", 28.8),
          txt(43, 102, "Gold Spot / U.S. Dollar · 30 · OANDA", GREY, 29.5),
          txt(553, 102, "O", GREY, 28.5),
          txt(572, 102, "4,427.630", RED, 29),
          txt(724, 102, "H", GREY, 28.5),
          txt(743, 102, "4,428.890", RED, 29),
          txt(895, 102, "L", GREY, 28.5),
          txt(907, 102, "4,423.985", RED, 29),
          txt(1059, 102, "C", GREY, 28.5),
          txt(1077, 102, "4,427.325", RED, 29),
          txt(1228, 102, "−0.290 (−0.01%)", RED, 29),
          txt(3455, 105, "USD", "#131722", 26),
          txt(64, 1439, "Mohamad Gharib", "#000000", 32.3, 600, 0),
          txt(64, 1509, "Arc Cycle Analysis™", "#000000", 33.5, 600, 0),
          {
            type: "group",
            x: 2818.7,
            y: 1602.7,
            z: 20,
            children: [
              { type: "circle", z: 20, shape: { cx: 0, cy: 0, r: 24.8 }, style: { fill: "#ffffff", stroke: "#9c27b0", lineWidth: 3 } },
              { type: "bolt", z: 20, style: { fill: "#9c27b0" } },
              { type: "circle", z: 20, shape: { cx: 17.3, cy: -16.7, r: 7 }, style: { fill: RED, stroke: "#ffffff", lineWidth: 3 } },
            ],
          },
          flag(2992, 1601),
          flag(3240.5, 1601),
        ],
      },
    });
    return () => chart.dispose();
  }, []);
  return <div ref={ref} style={{ position: "fixed", left: 0, top: 0, width: 3626, height: 1718, background: "#fff" }} />;
}
